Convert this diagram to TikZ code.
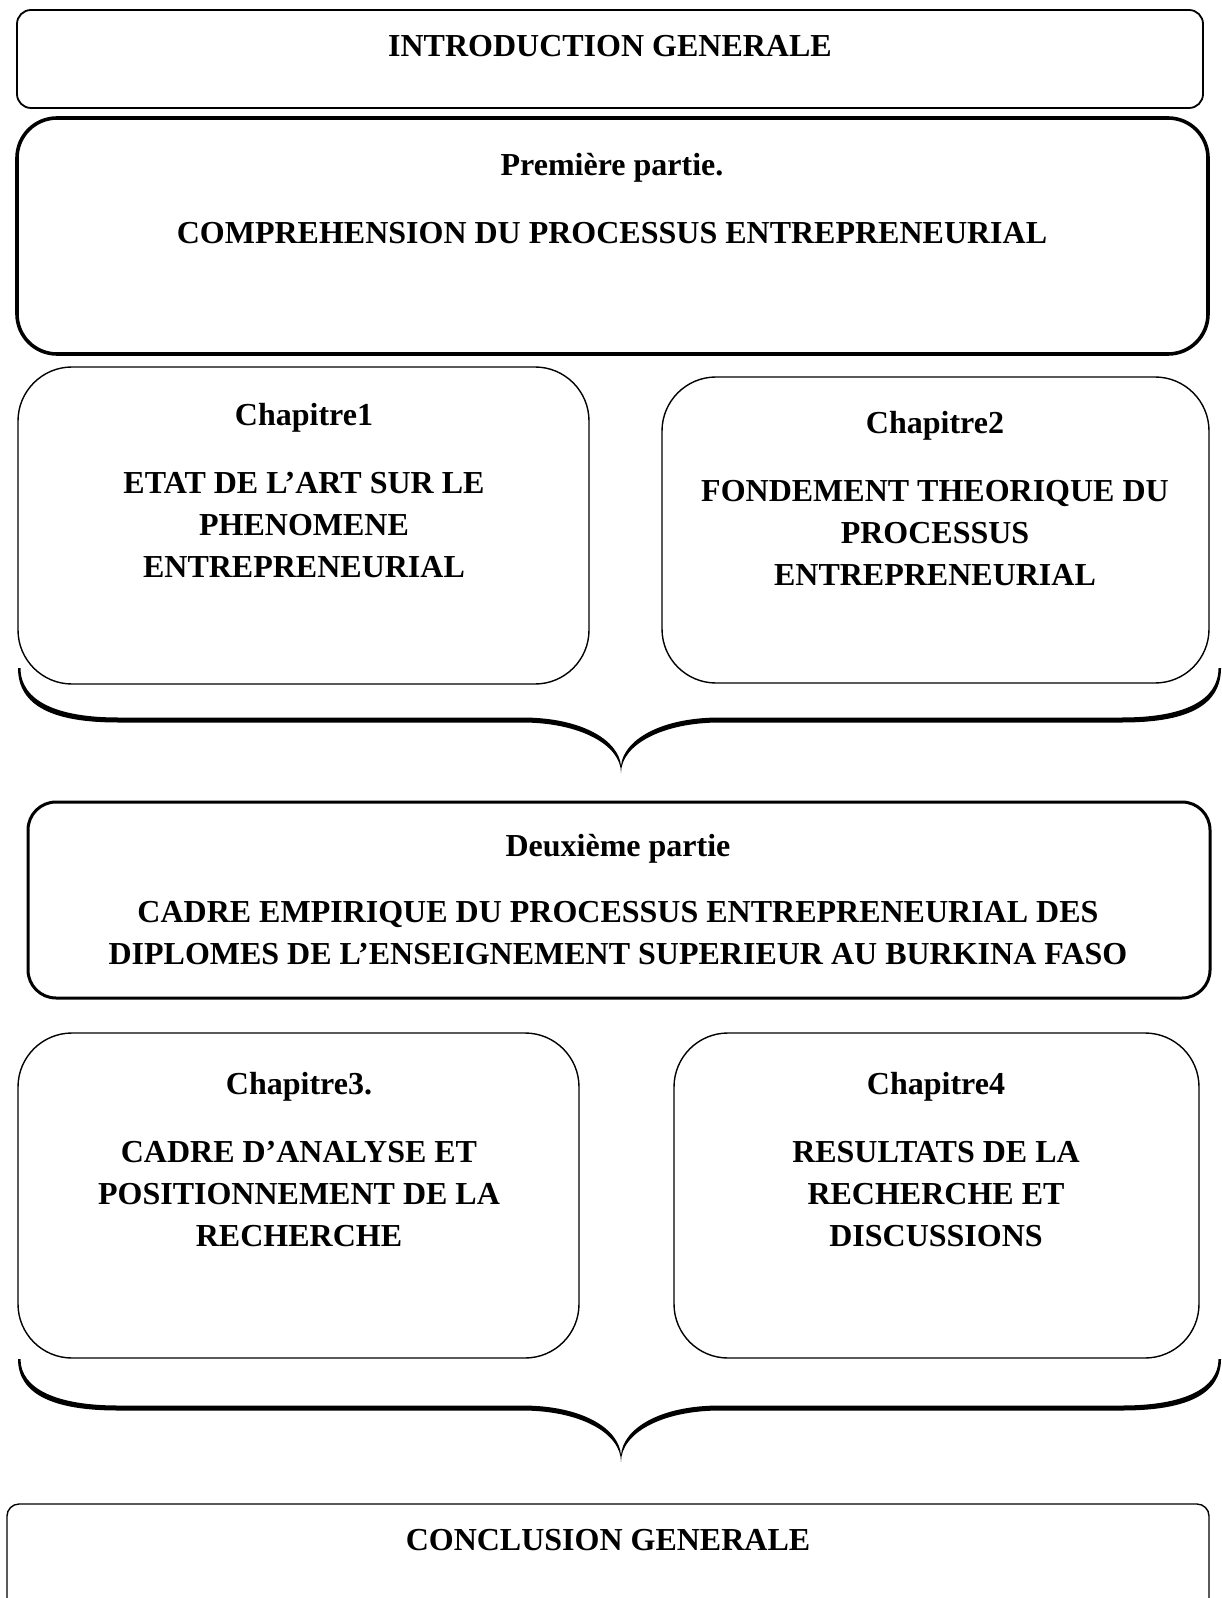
\documentclass[tikz,border=0pt]{standalone}
\usepackage{fontspec}
\setmainfont{Liberation Serif}
\usetikzlibrary{positioning}

\tikzset{
    thinbox/.style={draw, line width=0.9pt, rounded corners=7pt, inner sep=0pt},
    thickbox/.style={draw, line width=1.8pt, inner sep=0pt},
    chapbox/.style={draw, line width=0.7pt, rounded corners=27pt, inner sep=0pt},
    txt/.style={font=\bfseries\fontsize{16}{21}\selectfont, align=center, anchor=north, inner sep=0pt}
}

\begin{document}
\begin{tikzpicture}[x=0.5pt,y=-0.5pt]
            \useasboundingbox (0,0) rectangle (1221,1598);

            % boxes
            \node[thinbox, minimum width=593pt, minimum height=49pt] at (610,59) (intro) {};
            \node[thickbox, rounded corners=20pt, minimum width=595.5pt, minimum height=118pt] at (612.5,236) (part1) {};
            \node[chapbox, minimum width=285.5pt, minimum height=158.5pt] at (303.5,525.5) (ch1) {};
            \node[chapbox, minimum width=273.5pt, minimum height=153pt] at (935.5,530) (ch2) {};
            \node[thickbox, line width=1.5pt, rounded corners=14pt, minimum width=591pt, minimum height=98pt] at (619,900) (part2) {};
            \node[chapbox, minimum width=280.5pt, minimum height=162.5pt] at (298.5,1195.5) (ch3) {};
            \node[chapbox, minimum width=262.5pt, minimum height=162.5pt] at (936.5,1195.5) (ch4) {};
            \node[thinbox, line width=0.7pt, rounded corners=6pt, minimum width=601pt, minimum height=73pt] at (608,1577) (concl) {};

            % texts
            \node[txt] at (610,35) (introt) {INTRODUCTION GENERALE};
            \node[txt] at (612,153) (part1t) {Première partie.\\[13pt]COMPREHENSION DU PROCESSUS ENTREPRENEURIAL};
            \node[txt] at (304,403) (ch1t) {Chapitre1\\[13pt]ETAT DE L’ART SUR LE\\PHENOMENE\\ENTREPRENEURIAL};
            \node[txt] at (935,411) (ch2t) {Chapitre2\\[13pt]FONDEMENT THEORIQUE DU\\PROCESSUS\\ENTREPRENEURIAL};
            \node[txt] at (618,834) (part2t) {Deuxième partie\\[12pt]CADRE EMPIRIQUE DU PROCESSUS ENTREPRENEURIAL DES\\DIPLOMES DE L’ENSEIGNEMENT SUPERIEUR AU BURKINA FASO};
            \node[txt] at (299,1072) (ch3t) {Chapitre3.\\[13pt]CADRE D’ANALYSE ET\\POSITIONNEMENT DE LA\\RECHERCHE};
            \node[txt] at (936,1072) (ch4t) {Chapitre4\\[13pt]RESULTATS DE LA\\RECHERCHE ET\\DISCUSSIONS};
            \node[txt] at (608,1529) (conclt) {CONCLUSION GENERALE};

            % upper brace
            \fill (18,668) .. controls (18,707) and (55,722.5) .. (118,722.5) -- (522,722.5)
                .. controls (580,722.5) and (621,745) .. (621,773)
                .. controls (621,745) and (662,722.5) .. (720,722.5) -- (1122,722.5)
                .. controls (1185,722.5) and (1221,707) .. (1221,668)
                -- (1218.5,668) .. controls (1218.5,701) and (1183,717.5) .. (1122,717.5) -- (720,717.5)
                .. controls (659,717.5) and (623,741) .. (621,766)
                .. controls (619,741) and (583,717.5) .. (522,717.5) -- (118,717.5)
                .. controls (57,717.5) and (20.5,701) .. (20.5,668) -- cycle;

            % lower brace
            \fill (18,1359) .. controls (18,1395) and (55,1410.5) .. (118,1410.5) -- (522,1410.5)
                .. controls (580,1410.5) and (621,1433) .. (621,1462)
                .. controls (621,1433) and (662,1410.5) .. (720,1410.5) -- (1122,1410.5)
                .. controls (1185,1410.5) and (1221,1395) .. (1221,1359)
                -- (1218.5,1359) .. controls (1218.5,1389) and (1183,1405.5) .. (1122,1405.5) -- (720,1405.5)
                .. controls (659,1405.5) and (623,1429) .. (621,1455)
                .. controls (619,1429) and (583,1405.5) .. (522,1405.5) -- (118,1405.5)
                .. controls (57,1405.5) and (20.5,1389) .. (20.5,1359) -- cycle;
        \end{tikzpicture}
\end{document}
